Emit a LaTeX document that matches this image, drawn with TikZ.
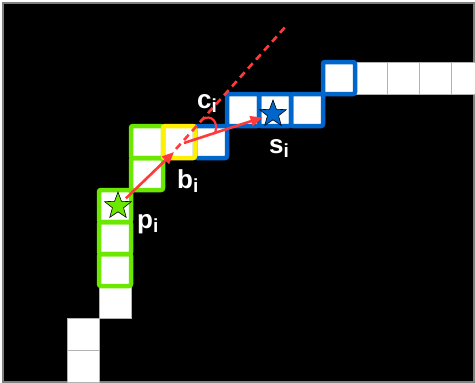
\documentclass[tikz,border=0pt]{standalone}
\usepackage{fontspec}
\setmainfont{Liberation Sans}
\usetikzlibrary{shapes.geometric,arrows.meta}
\definecolor{grn}{RGB}{108,232,0}
\definecolor{blu}{RGB}{0,102,204}
\definecolor{yel}{RGB}{255,240,0}
\definecolor{redc}{RGB}{255,58,58}
\definecolor{frame}{RGB}{128,128,128}
\newcommand\sublab[2]{#1\raisebox{-4pt}{\fontsize{19}{19}\selectfont #2}}
\tikzset{
  whitecell/.style={fill=white, draw=black!30, line width=0.8pt},
  greencell/.style={draw=grn, line width=4.5pt, rounded corners=2pt},
  bluecell/.style={draw=blu, line width=4.5pt, rounded corners=2pt},
  yellowcell/.style={draw=yel, line width=4.5pt, rounded corners=2pt},
  starnode/.style={star, star points=5, star point ratio=2.4, minimum size=28pt, inner sep=0pt, draw=black, line width=0.6pt},
  redarrow/.style={draw=redc, line width=2.6pt, -{Triangle[length=12pt,width=10pt]}},
  reddash/.style={draw=redc, line width=2.6pt, dash pattern=on 7pt off 5pt},
  lab/.style={text=white, font=\fontsize{26}{26}\selectfont\bfseries, inner sep=0pt, anchor=base west}
}
\begin{document}
\begin{tikzpicture}[x=1pt,y=-1pt]
\useasboundingbox (0,0) rectangle (475,383);
\fill[white] (0,0) rectangle (475,383);
\draw[draw=frame, fill=black, line width=1.5pt] (3,3) rectangle (474,382);
% white cells
\foreach \i/\j in {0/8,0/9,1/7,1/4,1/5,1/6,2/2,2/3,3/2,4/2,5/1,6/1,7/1,8/0,9/0,10/0,11/0}
  \path[whitecell] (67+32*\i,62+32*\j) rectangle ++(32,32);
\path[whitecell] (451,62) rectangle (475,94);
% coloured borders
\foreach \i/\j in {1/4,1/5,1/6,2/2,2/3}
  \path[greencell] (67+32*\i,62+32*\j) rectangle ++(32,32);
\foreach \i/\j in {4/2,5/1,6/1,7/1,8/0}
  \path[bluecell] (67+32*\i,62+32*\j) rectangle ++(32,32);
\path[yellowcell] (163,126) rectangle ++(32,32);
% stars
\node[starnode, fill=grn] (p) at (118,206) {};
\node[starnode, fill=blu] (s) at (273,114) {};
% construction points
\coordinate (b) at (174,152);
\coordinate (b2) at (184,143);
\coordinate (dend) at (287,25);
\coordinate (arcA) at (200,122);
\coordinate (arcB) at (215,133);
% lines
\draw[reddash] (176,149) -- (dend);
\draw[redarrow, shorten <=11pt] (p.center) -- (b);
\draw[redarrow, shorten >=11pt] (b2) -- (s.center);
\draw[draw=redc, line width=2.2pt] (arcA) .. controls (206,113) and (220,118) .. (arcB);
% labels
\node[lab] (cl) at (197,108) {\sublab{c}{i}};
\node[lab] (bl) at (177,188) {\sublab{b}{i}};
\node[lab] (sl) at (269,153) {\sublab{s}{i}};
\node[lab] (pl) at (137,228) {\sublab{p}{i}};
\end{tikzpicture}
\end{document}
